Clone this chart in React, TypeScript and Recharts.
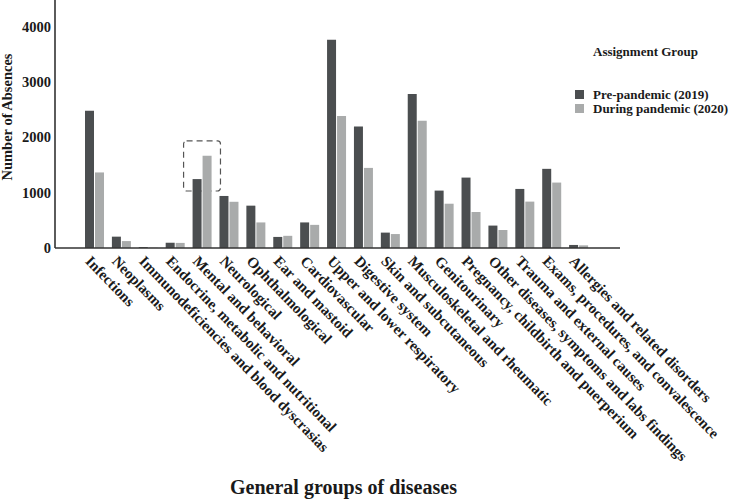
import React from "react";
import {
  BarChart, Bar, XAxis, YAxis, ReferenceArea, Label,
} from "recharts";

const categories = [
  "Infections",
  "Neoplasms",
  "Immunodeficiencies and blood dyscrasias",
  "Endocrine, metabolic and nutritional",
  "Mental and behavioral",
  "Neurological",
  "Ophthalmological",
  "Ear and mastoid",
  "Cardiovascular",
  "Upper and lower respiratory",
  "Digestive system",
  "Skin and subcutaneous",
  "Musculoskeletal and rheumatic",
  "Genitourinary",
  "Pregnancy, childbirth and puerperium",
  "Other diseases, symptoms and labs findings",
  "Trauma and external causes",
  "Exams, procedures, and convalescence",
  "Allergies and related disorders",
];

const prePandemic = [2480, 205, 15, 95, 1245, 940, 765, 200, 462, 3760, 2195, 278, 2780, 1037, 1272, 405, 1067, 1430, 55];
const duringPandemic = [1365, 125, 5, 92, 1665, 835, 462, 220, 418, 2385, 1447, 252, 2297, 800, 650, 325, 838, 1182, 48];

const yTicks = [0, 1000, 2000, 3000, 4000];

const legendItems = [
  { label: "Pre-pandemic (2019)", color: "#4b4e50" },
  { label: "During pandemic (2020)", color: "#a9abab" },
];

const DARK = legendItems[0].color;
const LIGHT = legendItems[1].color;
const FONT = "Liberation Serif, Times New Roman, serif";

const data = categories.map((name, i) => ({
  name,
  pre: prePandemic[i],
  during: duringPandemic[i],
}));

const AngledTick = (props: any) => {
  const { x, y, payload } = props;
  return (
    <g transform={`translate(${x - 10},${y + 14})`}>
      <text
        transform="rotate(46)"
        x={0}
        y={0}
        textAnchor="start"
        fontFamily={FONT}
        fontWeight="bold"
        fontSize={15}
        fill="#1a1a1a"
      >
        {payload.value}
      </text>
    </g>
  );
};

const YTitle = (props: any) => {
  const { viewBox } = props;
  const cx = 12;
  const cy = viewBox.y + viewBox.height / 2 - 7;
  return (
    <text
      x={cx}
      y={cy}
      transform={`rotate(-90, ${cx}, ${cy})`}
      textAnchor="middle"
      fontFamily={FONT}
      fontWeight="bold"
      fontSize={14.5}
      fill="#1a1a1a"
    >
      Number of Absences
    </text>
  );
};

const XTitle = (props: any) => {
  const { viewBox } = props;
  return (
    <text
      x={viewBox.x + viewBox.width / 2 + 6}
      y={494}
      textAnchor="middle"
      fontFamily={FONT}
      fontWeight="bold"
      fontSize={20}
      fill="#1a1a1a"
    >
      General groups of diseases
    </text>
  );
};

const LegendBox = () => (
  <div
    style={{
      position: "absolute",
      left: 575,
      top: 44,
      fontFamily: FONT,
      fontWeight: "bold",
      fontSize: 13,
      color: "#1a1a1a",
      whiteSpace: "nowrap",
    }}
  >
    <div style={{ marginLeft: 18, marginBottom: 29, lineHeight: "15px" }}>Assignment Group</div>
    {legendItems.map((it) => (
      <div key={it.label} style={{ display: "flex", alignItems: "center", height: 13.5, lineHeight: "13.5px" }}>
        <span style={{ width: 9, height: 9, background: it.color, display: "inline-block", marginRight: 9 }} />
        <span>{it.label}</span>
      </div>
    ))}
  </div>
);

const DashedBox = (props: any) => {
  const { x, y, width, height } = props;
  return (
    <rect
      x={x - 5}
      y={y}
      width={width + 10}
      height={height}
      rx={3}
      fill="none"
      stroke="#555"
      strokeWidth={1.2}
      strokeDasharray="6 4"
    />
  );
};

export default function App() {
  return (
    <div style={{ position: "absolute", left: 0, top: 0, width: 730, height: 501, background: "#fff" }}>
      <BarChart
        width={730}
        height={501}
        data={data}
        margin={{ top: 0, right: 110, left: 0, bottom: 0 }}
        barCategoryGap={4}
        barGap={1}
      >
        <XAxis
          dataKey="name"
          interval={0}
          height={253}
          tickLine={false}
          tickSize={0}
          tickMargin={0}
          axisLine={{ stroke: "#333", strokeWidth: 1.6 }}
          padding={{ left: 26, right: 28 }}
          tick={<AngledTick />}
        >
          <Label content={<XTitle />} />
        </XAxis>
        <YAxis
          width={55}
          domain={[0, 4480]}
          ticks={yTicks}
          tickLine={false}
          tickSize={0}
          tickMargin={4}
          axisLine={{ stroke: "#333", strokeWidth: 1.6 }}
          tick={{ fontFamily: FONT, fontWeight: "bold", fontSize: 14.5, fill: "#1a1a1a" }}
        >
          <Label content={<YTitle />} />
        </YAxis>
        <Bar dataKey="pre" name="Pre-pandemic (2019)" fill={DARK} isAnimationActive={false} />
        <Bar dataKey="during" name="During pandemic (2020)" fill={LIGHT} isAnimationActive={false} />
        <ReferenceArea
          x1="Mental and behavioral"
          x2="Mental and behavioral"
          y1={1030}
          y2={1935}
          ifOverflow="visible"
          shape={<DashedBox />}
        />
      </BarChart>
      <LegendBox />
    </div>
  );
}
